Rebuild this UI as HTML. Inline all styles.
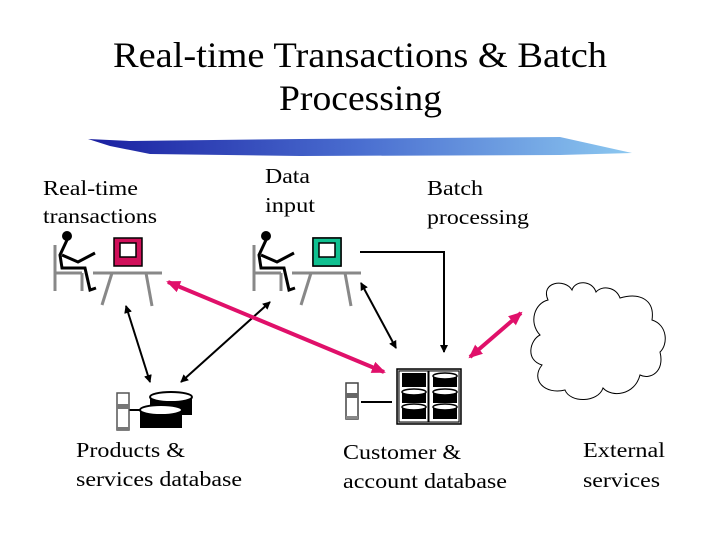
<!DOCTYPE html>
<html><head><meta charset="utf-8"><style>html,body{margin:0;padding:0;background:#fff}svg{display:block}</style></head><body>
<svg width="720" height="540" viewBox="0 0 720 540" xmlns="http://www.w3.org/2000/svg" font-family="Liberation Serif, serif">
<defs>
<linearGradient id="g" x1="0" x2="1"><stop offset="0" stop-color="#1a1fa0"/><stop offset="0.5" stop-color="#4a6ed0"/><stop offset="1" stop-color="#8cc8f0"/></linearGradient>
<marker id="ab" markerWidth="8" markerHeight="8" refX="7" refY="4" orient="auto-start-reverse" markerUnits="userSpaceOnUse"><path d="M0,0 L8,4 L0,8 z" fill="#000"/></marker>
<marker id="ap" markerWidth="14" markerHeight="12" refX="12" refY="6" orient="auto-start-reverse" markerUnits="userSpaceOnUse"><path d="M0,0 L14,6 L0,12 z" fill="#e0106a"/></marker>
</defs>
<text x="113" y="67" font-size="36" textLength="494" lengthAdjust="spacingAndGlyphs">Real-time Transactions &amp; Batch</text>
<text x="279" y="110" font-size="36" textLength="163" lengthAdjust="spacingAndGlyphs">Processing</text>
<path d="M88,139 L130,141 L300,139 L560,137 L632,153 L560,155 L300,156 L150,154 L110,146 Z" fill="url(#g)"/>

<g id="p1">
<g stroke="#888" stroke-width="3" fill="none">
<path d="M55,245 V291"/><path d="M55,273 H82"/><path d="M82,273 V291"/>
<path d="M93,273 H162"/><path d="M112,273 L102,305"/><path d="M146,273 L152,306"/>
</g>
<circle cx="67" cy="236" r="5" fill="#000"/>
<g stroke="#000" stroke-width="3" fill="none">
<path d="M67,240 L60,255 L62,268 L85,268 L90,290 L96,288"/>
<path d="M62,255 L78,262 L95,253"/>
</g>
<rect x="114" y="238" width="28" height="28" fill="#d0105a" stroke="#000" stroke-width="1.5"/>
<rect x="120" y="243" width="16" height="14" fill="#fff" stroke="#000" stroke-width="1.5"/>
</g>
<use href="#p1" transform="translate(199,0)"/>
<rect x="313" y="238" width="28" height="28" fill="#10c090" stroke="#000" stroke-width="1.5"/>
<rect x="319" y="243" width="16" height="14" fill="#fff" stroke="#000" stroke-width="1.5"/>

<g stroke="#000" stroke-width="2" fill="none">
<line x1="126" y1="306" x2="150" y2="382" marker-start="url(#ab)" marker-end="url(#ab)"/>
<line x1="181" y1="382" x2="270" y2="302" marker-start="url(#ab)" marker-end="url(#ab)"/>
<line x1="361" y1="283" x2="396" y2="348" marker-start="url(#ab)" marker-end="url(#ab)"/>
<path d="M360,252 H444 V352" marker-end="url(#ab)"/>
<line x1="361" y1="402" x2="392" y2="402"/>
<line x1="129" y1="410" x2="142" y2="410"/>
</g>
<g stroke="#e0106a" stroke-width="4" fill="none">
<line x1="168" y1="282" x2="384" y2="372" marker-start="url(#ap)" marker-end="url(#ap)"/>
<line x1="470" y1="357" x2="521" y2="313" marker-start="url(#ap)" marker-end="url(#ap)"/>
</g>

<g stroke="#000" stroke-width="1" fill="#fff">
<path d="M548,300 C540,282 565,278 572,290 C575,280 592,280 596,292 C602,285 616,287 620,298 C640,292 655,300 652,320 C668,325 668,345 660,352 C665,372 650,380 640,375 C635,395 612,398 603,388 C598,403 570,403 565,390 C545,395 530,380 542,365 C525,360 530,340 540,335 C528,322 535,303 548,300 Z"/>
</g>

<g>
<rect x="117" y="393" width="12" height="37" fill="#fff" stroke="#555" stroke-width="1.5"/>
<rect x="117" y="404" width="12" height="5" fill="#777"/>
<rect x="117" y="427" width="12" height="3" fill="#777"/>
<rect x="150" y="397" width="42" height="18" fill="#000"/>
<ellipse cx="171" cy="397" rx="21" ry="5" fill="#fff" stroke="#000" stroke-width="2"/>
<rect x="140" y="410" width="42" height="18" fill="#000"/>
<ellipse cx="161" cy="410" rx="21" ry="5" fill="#fff" stroke="#000" stroke-width="2"/>
</g>

<g>
<rect x="346" y="383" width="12" height="36" fill="#fff" stroke="#444" stroke-width="1.5"/>
<rect x="346" y="393" width="12" height="5" fill="#666"/>
<rect x="346" y="416" width="12" height="3" fill="#888"/>
<rect x="397" y="369" width="64" height="55" fill="#ccc" stroke="#000" stroke-width="1.5"/>
<rect x="399" y="371" width="29" height="51" fill="#fff" stroke="#000"/>
<rect x="429" y="371" width="30" height="51" fill="#fff" stroke="#000"/>
<rect x="402" y="373" width="24" height="14" fill="#000"/>
<rect x="402" y="393" width="24" height="10" fill="#000"/><ellipse cx="414" cy="392" rx="12" ry="3" fill="#fff" stroke="#000" stroke-width="1.5"/>
<rect x="402" y="408" width="24" height="11" fill="#000"/><ellipse cx="414" cy="407" rx="12" ry="3" fill="#fff" stroke="#000" stroke-width="1.5"/>
<rect x="433" y="377" width="24" height="10" fill="#000"/><ellipse cx="445" cy="376" rx="12" ry="3" fill="#fff" stroke="#000" stroke-width="1.5"/>
<rect x="433" y="393" width="24" height="10" fill="#000"/><ellipse cx="445" cy="392" rx="12" ry="3" fill="#fff" stroke="#000" stroke-width="1.5"/>
<rect x="433" y="408" width="24" height="11" fill="#000"/><ellipse cx="445" cy="407" rx="12" ry="3" fill="#fff" stroke="#000" stroke-width="1.5"/>
</g>

<g font-size="21" lengthAdjust="spacingAndGlyphs">
<text x="43" y="195" textLength="95" lengthAdjust="spacingAndGlyphs">Real-time</text><text x="43" y="223" textLength="114" lengthAdjust="spacingAndGlyphs">transactions</text>
<text x="265" y="183" textLength="45" lengthAdjust="spacingAndGlyphs">Data</text><text x="265" y="212" textLength="50" lengthAdjust="spacingAndGlyphs">input</text>
<text x="427" y="195" textLength="56" lengthAdjust="spacingAndGlyphs">Batch</text><text x="427" y="224" textLength="102" lengthAdjust="spacingAndGlyphs">processing</text>
<text x="76" y="457" textLength="109" lengthAdjust="spacingAndGlyphs">Products &amp;</text><text x="76" y="486" textLength="166" lengthAdjust="spacingAndGlyphs">services database</text>
<text x="343" y="459" textLength="118" lengthAdjust="spacingAndGlyphs">Customer &amp;</text><text x="343" y="488" textLength="164" lengthAdjust="spacingAndGlyphs">account database</text>
<text x="583" y="457" textLength="82" lengthAdjust="spacingAndGlyphs">External</text><text x="583" y="487" textLength="77" lengthAdjust="spacingAndGlyphs">services</text>
</g>
</svg>
</body></html>
